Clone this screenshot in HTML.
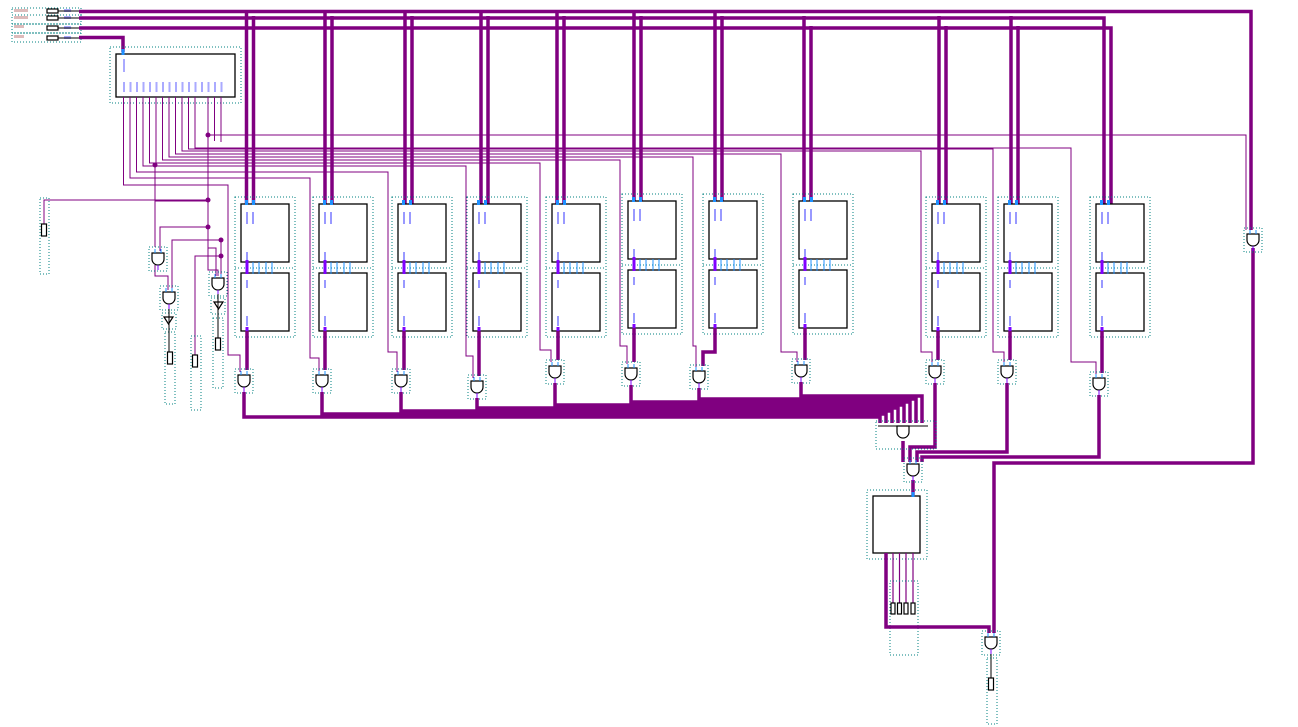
<!DOCTYPE html>
<html><head><meta charset="utf-8"><style>
html,body{margin:0;padding:0;background:#fff;width:1298px;height:727px;overflow:hidden}
svg{display:block;font-family:"Liberation Sans",sans-serif}
</style></head><body>
<svg width="1298" height="727" viewBox="0 0 1298 727" xmlns="http://www.w3.org/2000/svg">
<defs>
<g id="mod">
 <rect x="-6" y="-7" width="60" height="140" fill="none" stroke="#008080" stroke-width="1" stroke-dasharray="1,2"/>
 <rect x="0" y="0" width="48" height="58" fill="#fff" stroke="#000" stroke-width="1.3"/>
 <rect x="0" y="69" width="48" height="58" fill="#fff" stroke="#000" stroke-width="1.3"/>
 <line x1="-6" y1="64" x2="54" y2="64" stroke="#008080" stroke-dasharray="1,2"/>
 <rect x="4" y="-4" width="3" height="5" fill="#1e90ff"/><rect x="11" y="-4" width="3" height="5" fill="#1e90ff"/>
 <rect x="4.5" y="56" width="3" height="14" fill="#8000ff"/>
 <g stroke="#1e90ff" stroke-width="1"><line x1="12" y1="58" x2="12" y2="70"/><line x1="18" y1="58" x2="18" y2="70"/><line x1="25" y1="58" x2="25" y2="70"/><line x1="31" y1="58" x2="31" y2="70"/></g>
 <g fill="#99f"><rect x="5" y="8" width="2" height="12"/><rect x="11" y="8" width="2" height="12"/><rect x="5" y="48" width="2" height="8"/><rect x="5" y="76" width="2" height="8"/><rect x="5" y="112" width="2" height="10"/></g>
 <rect x="4.5" y="123" width="3" height="6" fill="#8000ff"/>
</g>
<g id="and">
 <rect x="-9" y="-6" width="18" height="24" fill="none" stroke="#008080" stroke-dasharray="1,2"/>
 <path d="M-6,0 H6 V6 A6,6 0 0 1 -6,6 Z" fill="#fff" stroke="#000" stroke-width="1.2"/>
 <line x1="-3" y1="-4" x2="-3" y2="0" stroke="#1e90ff"/><line x1="3" y1="-4" x2="3" y2="0" stroke="#1e90ff"/>
 <line x1="0" y1="12" x2="0" y2="17" stroke="#8000ff"/>
</g>
<g id="pin">
 <rect x="-2.5" y="0" width="5" height="12" fill="#fff" stroke="#000" stroke-width="1.2"/>
</g>
</defs>

<!-- input pins top-left -->
<g stroke="#008080" stroke-dasharray="1,2" fill="none">
 <rect x="12" y="8" width="69" height="7"/><rect x="12" y="15" width="69" height="9"/><rect x="12" y="24" width="69" height="9"/><rect x="12" y="33" width="69" height="9"/>
</g>
<g fill="#fff" stroke="#000" stroke-width="1.2">
 <rect x="47" y="9" width="11" height="4"/><rect x="47" y="16" width="11" height="4"/><rect x="47" y="26" width="11" height="4"/><rect x="47" y="36" width="11" height="4"/>
</g>
<g fill="#dbb"><rect x="14" y="9" width="14" height="3"/><rect x="14" y="16" width="14" height="3"/><rect x="14" y="25" width="10" height="3"/><rect x="14" y="35" width="10" height="3"/></g>
<g fill="#aaf"><rect x="64" y="9" width="7" height="3"/><rect x="64" y="16" width="7" height="3"/><rect x="64" y="26" width="7" height="3"/><rect x="64" y="36" width="7" height="3"/></g>
<g stroke="#000" stroke-width="1"><line x1="58" y1="11" x2="80" y2="11"/><line x1="58" y1="18" x2="80" y2="18"/><line x1="58" y1="28" x2="80" y2="28"/><line x1="58" y1="38" x2="80" y2="38"/></g>

<!-- main buses -->
<g stroke="#800080" stroke-width="3.5" fill="none">
 <path d="M79,11.5 H1251 V230"/>
 <path d="M79,18 H1104 V204"/>
 <path d="M79,28 H1111 V204"/>
 <path d="M79,37.5 H123 V52"/>
 <path d="M246.5,10 V204 M253.5,16 V204"/>
 <path d="M325,10 V204 M332,16 V204"/>
 <path d="M405,10 V204 M412,16 V204"/>
 <path d="M481,10 V204 M488,16 V204"/>
 <path d="M557,10 V204 M564,16 V204"/>
 <path d="M634,10 V201 M641,16 V201"/>
 <path d="M715,10 V201 M722,16 V201"/>
 <path d="M804,16 V201 M811,26 V201"/>
 <path d="M939,16 V204 M946,26 V204"/>
 <path d="M1011,16 V204 M1018,26 V204"/>
</g>

<!-- decoder -->
<rect x="110" y="47" width="131" height="56" fill="none" stroke="#008080" stroke-dasharray="1,2"/>
<rect x="116" y="54" width="119" height="43" fill="#fff" stroke="#000" stroke-width="1.3"/>
<rect x="121.5" y="49" width="3" height="6" fill="#1e90ff"/>
<g fill="#aaf">
 <rect x="123" y="59" width="2" height="13"/>
 <rect x="123" y="82" width="2" height="10"/><rect x="129.5" y="82" width="2" height="10"/><rect x="136" y="82" width="2" height="10"/><rect x="142.5" y="82" width="2" height="10"/><rect x="149" y="82" width="2" height="10"/><rect x="155.5" y="82" width="2" height="10"/><rect x="162" y="82" width="2" height="10"/><rect x="168.5" y="82" width="2" height="10"/><rect x="175" y="82" width="2" height="10"/><rect x="181.5" y="82" width="2" height="10"/><rect x="188" y="82" width="2" height="10"/><rect x="194.5" y="82" width="2" height="10"/><rect x="201" y="82" width="2" height="10"/><rect x="207.5" y="82" width="2" height="10"/><rect x="214" y="82" width="2" height="10"/><rect x="220.5" y="82" width="2" height="10"/>
</g>

<!-- decoder thin outputs -->
<g stroke="#800080" stroke-width="1" fill="none">
 <path d="M123.5,97 V185 H228 V355 H240 V372"/>
 <path d="M130,97 V178 H310 V358 H319 V372"/>
 <path d="M136.5,97 V172 H388 V352 H397 V372"/>
 <path d="M143,97 V166 H466 V356 H473 V378"/>
 <path d="M149.5,97 V163 H540 V350 H551 V362"/>
 <path d="M156,97 V165 H155 V247"/>
 <path d="M162.5,97 V160 H620 V346 H627 V364"/>
 <path d="M169,97 V157 H693 V346 H696 V368"/>
 <path d="M175.5,97 V154 H781 V352 H797 V362"/>
 <path d="M182,97 V151 H921 V352 H932 V362"/>
 <path d="M188.5,97 V149 H993 V352 H1004 V362"/>
 <path d="M195,97 V148 H1071 V362 H1096 V375"/>
 <path d="M208,97 V135 H1246 V230"/>
 <path d="M214.5,97 V141"/>
 <path d="M221,97 V142"/>
 <path d="M208,135 V270 H218 V276"/>
 <path d="M44,225 V200 H208"/>
 <path d="M208,200 V248 H216 V276"/>
 <path d="M155,201 H208"/>
 <path d="M160,251 V227 H208"/>
 <path d="M172,290 V240 H221 V276"/>
 <path d="M195,355 V256 H221"/>
 <path d="M168,290 V276 H155 V265"/>
</g>
<g fill="#800080"><circle cx="208" cy="135" r="2.5"/><circle cx="155" cy="165" r="2.5"/><circle cx="208" cy="200" r="2.5"/><circle cx="208" cy="227" r="2.5"/><circle cx="221" cy="240" r="2.5"/><circle cx="221" cy="256" r="2.5"/></g>

<!-- left gates -->
<use href="#and" x="158" y="253"/>
<use href="#and" x="169" y="292"/>
<use href="#and" x="218" y="278"/>
<g fill="#fff" stroke="#000" stroke-width="1.2">
 <path d="M164,317 H173 L168.5,324 Z"/><path d="M214,302 H223 L218.5,309 Z"/>
</g>
<g stroke="#008080" stroke-dasharray="1,2" fill="none">
 <rect x="162" y="313" width="14" height="16"/><rect x="211" y="298" width="14" height="16"/>
 <rect x="40" y="198" width="9" height="76"/><rect x="165" y="332" width="10" height="72"/><rect x="191" y="336" width="10" height="74"/><rect x="213" y="318" width="10" height="70"/>
</g>
<g stroke="#000"><line x1="169" y1="309" x2="169" y2="352"/><line x1="218" y1="294" x2="218" y2="338"/></g>
<use href="#pin" x="44" y="224"/>
<use href="#pin" x="170" y="352"/>
<use href="#pin" x="195" y="355"/>
<use href="#pin" x="218" y="338"/>

<!-- modules -->
<use href="#mod" x="241" y="204"/>
<use href="#mod" x="319" y="204"/>
<use href="#mod" x="398" y="204"/>
<use href="#mod" x="473" y="204"/>
<use href="#mod" x="552" y="204"/>
<use href="#mod" x="628" y="201"/>
<use href="#mod" x="709" y="201"/>
<use href="#mod" x="799" y="201"/>
<use href="#mod" x="932" y="204"/>
<use href="#mod" x="1004" y="204"/>
<use href="#mod" x="1096" y="204"/>

<!-- module outputs to gates -->
<g stroke="#800080" stroke-width="3.5" fill="none">
 <path d="M247,331 V370"/><path d="M325,331 V370"/><path d="M404,331 V370"/><path d="M479,331 V376"/>
 <path d="M558,331 V360"/><path d="M634,328 V362"/><path d="M715,328 V352 H703 V366"/><path d="M805,328 V360"/>
 <path d="M938,331 V360"/><path d="M1010,331 V360"/><path d="M1102,331 V373"/>
</g>
<use href="#and" x="244" y="375"/>
<use href="#and" x="322" y="375"/>
<use href="#and" x="401" y="375"/>
<use href="#and" x="477" y="381"/>
<use href="#and" x="555" y="366"/>
<use href="#and" x="631" y="368"/>
<use href="#and" x="699" y="371"/>
<use href="#and" x="801" y="365"/>
<use href="#and" x="935" y="366"/>
<use href="#and" x="1007" y="366"/>
<use href="#and" x="1099" y="378"/>

<!-- gate outputs bus -->
<g stroke="#800080" stroke-width="3.5" fill="none">
 <path d="M244,392 V417 H880 V423"/>
 <path d="M322,392 V414 H886 V423"/>
 <path d="M401,392 V411 H892 V423"/>
 <path d="M477,398 V408 H898 V423"/>
 <path d="M555,383 V405 H904 V423"/>
 <path d="M631,385 V402 H910 V423"/>
 <path d="M699,388 V399 H916 V423"/>
 <path d="M801,382 V396 H922 V423"/>
 <path d="M935,383 V447 H910 V462"/>
 <path d="M1007,383 V452 H917 V462"/>
 <path d="M1099,395 V457 H922 V462"/>
 <path d="M903,441 V462"/>
 <path d="M1253,248 V463 H994 V633"/>
 <path d="M913,480 V495"/>
</g>
<rect x="876" y="421" width="60" height="28" fill="none" stroke="#008080" stroke-dasharray="1,2"/>
<path d="M897,426 H909 V432 A6,6 0 0 1 897,432 Z" fill="#fff" stroke="#000" stroke-width="1.2"/>
<line x1="878" y1="426" x2="928" y2="426" stroke="#000"/>
<use href="#and" x="913" y="464"/>
<use href="#and" x="1253" y="234"/>

<!-- bottom box -->
<rect x="867" y="490" width="60" height="69" fill="none" stroke="#008080" stroke-dasharray="1,2"/>
<rect x="873" y="496" width="47" height="57" fill="#fff" stroke="#000" stroke-width="1.3"/>
<rect x="911.5" y="492" width="3" height="5" fill="#1e90ff"/>
<g stroke="#800080" stroke-width="1.2"><line x1="893" y1="553" x2="893" y2="603"/><line x1="899.5" y1="553" x2="899.5" y2="603"/><line x1="906" y1="553" x2="906" y2="603"/><line x1="913" y1="553" x2="913" y2="603"/></g>
<g fill="#fff" stroke="#000" stroke-width="1.2"><rect x="891" y="603" width="4" height="11"/><rect x="897.5" y="603" width="4" height="11"/><rect x="904" y="603" width="4" height="11"/><rect x="911" y="603" width="4" height="11"/></g>
<rect x="890" y="581" width="28" height="74" fill="none" stroke="#008080" stroke-dasharray="1,2"/>
<path d="M886,553 V627 H989 V633" stroke="#800080" stroke-width="3.5" fill="none"/>
<use href="#and" x="991" y="637"/>
<line x1="991" y1="654" x2="991" y2="678" stroke="#000"/>
<use href="#pin" x="991" y="678"/>
<rect x="987" y="658" width="10" height="66" fill="none" stroke="#008080" stroke-dasharray="1,2"/>
</svg>
</body></html>
